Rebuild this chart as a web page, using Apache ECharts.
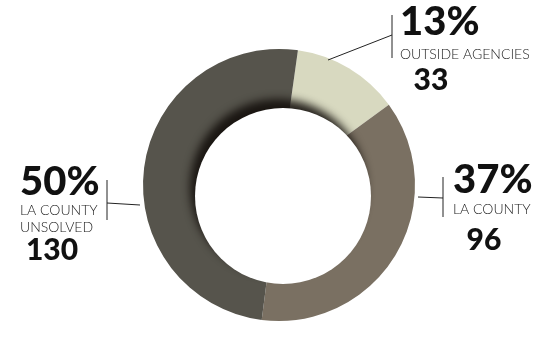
<!DOCTYPE html>
<html>
<head>
<meta charset="utf-8">
<script src="https://cdn.jsdelivr.net/npm/echarts@6/dist/echarts.min.js"></script>
<style>
  html, body { margin: 0; padding: 0; background: #fff; }
  #chart { width: 540px; height: 339px; }
</style>
</head>
<body>
<div id="chart"></div>
<script>
// data
var names = ['OUTSIDE AGENCIES', 'LA COUNTY', 'LA COUNTY\nUNSOLVED'];
var values = [33, 96, 130];
var colors = ['#d8d9c0', '#7a7062', '#56544c'];

var total = values.reduce(function (a, b) { return a + b; }, 0);
var pct = values.map(function (v) { return Math.round(v / total * 100) + '%'; });

var cx = 279, cy = 185, rOut = 136;
// hole sits a little low/right, gives the ring its tilted look
var hole = { x: 283, y: 196, r: 88 };

// label blocks: percentage / name / value positions, separator bar and leader line
var labelSpots = [
  { px: 400, py: 22, ny: 53, vx: 431, vy: 80, bar: [392, 15, 58], line: [[328, 60], [392, 35]] },
  { px: 453, py: 180, ny: 208, vx: 484, vy: 240, bar: [443, 177, 217], line: [[418, 197], [443, 198]] },
  { px: 20, py: 182, ny: 209, vx: 52, vy: 250, bar: [107, 180, 220], line: [[107, 203], [140, 205]] }
];

var graphics = [{
  type: 'circle', z: 10,
  shape: { cx: hole.x, cy: hole.y, r: hole.r },
  style: { fill: '#fff', shadowColor: 'rgba(20,16,12,0.9)', shadowBlur: 8, shadowOffsetX: -5, shadowOffsetY: -9 }
}];
labelSpots.forEach(function (s, i) {
  graphics.push({
    type: 'text', left: s.px, top: s.py - 20, z: 20,
    style: { text: pct[i], font: '900 40px Lato, "DejaVu Sans", sans-serif', fill: '#111' }
  });
  graphics.push({
    type: 'text', left: s.px, top: s.ny - 7, z: 20,
    style: { text: names[i], font: '300 14px Lato, "Noto Sans", sans-serif', fill: '#222', lineHeight: 17 }
  });
  graphics.push({
    type: 'text', x: s.vx, y: s.vy, z: 20,
    style: { text: String(values[i]), font: '900 30px Lato, "DejaVu Sans", sans-serif', fill: '#111',
      align: 'center', verticalAlign: 'middle' }
  });
  graphics.push({
    type: 'line', z: 20, shape: { x1: s.bar[0], y1: s.bar[1], x2: s.bar[0], y2: s.bar[2] },
    style: { stroke: '#222', lineWidth: 1 }
  });
  graphics.push({
    type: 'line', z: 20, shape: { x1: s.line[0][0], y1: s.line[0][1], x2: s.line[1][0], y2: s.line[1][1] },
    style: { stroke: '#222', lineWidth: 1 }
  });
});

var chart = echarts.init(document.getElementById('chart'));
chart.setOption({
  animation: false,
  series: [{
    type: 'pie',
    center: [cx, cy],
    radius: [0, rOut],
    startAngle: 82,
    clockwise: true,
    label: { show: false },
    labelLine: { show: false },
    emphasis: { disabled: true },
    data: names.map(function (n, i) {
      return { name: n, value: values[i], itemStyle: { color: colors[i] } };
    })
  }],
  graphic: graphics
});
</script>
</body>
</html>
